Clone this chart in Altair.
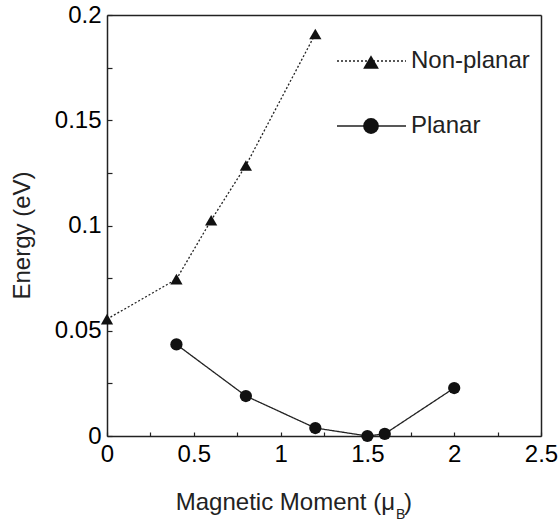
import altair as alt
import pandas as pd

# ---- data ----
nonplanar_x = [0.0, 0.4, 0.6, 0.8, 1.2]
nonplanar_y = [0.0555, 0.0745, 0.1025, 0.1285, 0.191]
planar_x = [0.4, 0.8, 1.2, 1.5, 1.6, 2.0]
planar_y = [0.0435, 0.019, 0.0038, 0.0, 0.001, 0.0228]
series_names = ["Non-planar", "Planar"]

x_major = [0, 0.5, 1, 1.5, 2, 2.5]
x_minor = [0, 0.25, 0.5, 0.75, 1, 1.25, 1.5, 1.75, 2, 2.25, 2.5]
y_major = [0, 0.05, 0.1, 0.15, 0.2]
y_minor = [0, 0.025, 0.05, 0.075, 0.1, 0.125, 0.15, 0.175, 0.2]
x_title_main = ["Magnetic Moment (μ"]
x_title_sub = ["B"]
x_title_end = [")"]
y_title = "Energy (eV)"

df = pd.concat([
    pd.DataFrame({"moment": nonplanar_x, "energy": nonplanar_y, "series": series_names[0]}),
    pd.DataFrame({"moment": planar_x, "energy": planar_y, "series": series_names[1]}),
], ignore_index=True)

W, H = 434, 421
FONT = "Liberation Sans"
INK = "#222222"
MARK = "#111111"

xs = alt.Scale(domain=[0, 2.5], nice=False, zero=False)
ys = alt.Scale(domain=[0, 0.2], nice=False, zero=False)

# main axes: labels + bottom/left frame lines
x_lab_axis = alt.Axis(values=x_major, format="~g", ticks=False, domain=True, domainColor=INK,
                      domainWidth=1.5, grid=False, labelPadding=6, title=None, labelFontSize=24,
                      labelFlush=False, labelOverlap=False)
y_lab_axis = alt.Axis(values=y_major, format="~g", ticks=False, domain=True, domainColor=INK,
                      domainWidth=1.5, grid=False, labelPadding=6, labelFontSize=24,
                      labelFlush=False, labelOverlap=False,
                      title=y_title, titleFontSize=24, titleFont=FONT, titleFontWeight="normal",
                      titleColor=INK, titlePadding=20, titleY=220)
# inward tick axes
x_tick_axis = alt.Axis(orient="top", offset=-H, values=x_minor, labels=False, domain=False,
                       grid=False, tickSize=4, tickWidth=1.2, tickColor=INK, title=None)
y_tick_axis = alt.Axis(orient="right", offset=-W, values=y_minor, labels=False, domain=False,
                       grid=False, tickSize=5, tickWidth=1.2, tickColor=INK, title=None)
# top/right frame lines
x_top_axis = alt.Axis(orient="top", values=x_major, labels=False, ticks=False, domain=True,
                      domainColor=INK, domainWidth=1.5, grid=False, title=None)
y_right_axis = alt.Axis(orient="right", values=y_major, labels=False, ticks=False, domain=True,
                        domainColor=INK, domainWidth=1.5, grid=False, title=None)

lines = alt.Chart(df).mark_line(color=INK, strokeWidth=1.3).encode(
    x=alt.X("moment:Q", scale=xs, axis=x_lab_axis),
    y=alt.Y("energy:Q", scale=ys, axis=y_lab_axis),
    detail="series:N",
    strokeDash=alt.StrokeDash("series:N", scale=alt.Scale(domain=series_names, range=[[2, 2], [1, 0]]),
                              legend=None),
)

tri = alt.Chart(df).transform_filter(alt.datum.series == series_names[0]).mark_point(
    shape="triangle-up", filled=True, size=150, color=MARK, opacity=1
).encode(
    x=alt.X("moment:Q", scale=xs, axis=x_tick_axis),
    y=alt.Y("energy:Q", scale=ys, axis=y_tick_axis),
)

circ = alt.Chart(df).transform_filter(alt.datum.series == series_names[1]).mark_point(
    shape="circle", filled=True, size=150, color=MARK, opacity=1
).encode(
    x=alt.X("moment:Q", scale=xs, axis=x_top_axis),
    y=alt.Y("energy:Q", scale=ys, axis=y_right_axis),
)

# ---- legend (drawn as a guide inside the plot, top right) ----
legend_df = pd.DataFrame({"label": series_names})
LX0, LX1, LMID, LTXT = 230, 299, 264, 304
LY = {series_names[0]: 46, series_names[1]: 111}
legend_layers = []
for name, dash, shape in [(series_names[0], [2, 2], "triangle-up"), (series_names[1], [1, 0], "circle")]:
    base = alt.Chart(legend_df).transform_filter(alt.datum.label == name)
    legend_layers.append(base.mark_rule(color=INK, strokeWidth=1.3, strokeDash=dash).encode(
        x=alt.value(LX0), x2=alt.value(LX1), y=alt.value(LY[name])))
    legend_layers.append(base.mark_point(shape=shape, filled=True, size=250, color=MARK, opacity=1).encode(
        x=alt.value(LMID), y=alt.value(LY[name] + (1 if shape == "triangle-up" else 0))))
    legend_layers.append(base.mark_text(align="left", baseline="middle", font=FONT, fontSize=24,
                                        color=INK).encode(
        text="label:N", x=alt.value(LTXT), y=alt.value(LY[name])))

title_main = alt.Chart(pd.DataFrame({"t": x_title_main})).mark_text(
    align="right", baseline="alphabetic", font=FONT, fontSize=24, color=INK
).encode(text="t:N", x=alt.value(288), y=alt.value(495))
title_sub = alt.Chart(pd.DataFrame({"t": x_title_sub})).mark_text(
    align="left", baseline="alphabetic", font=FONT, fontSize=14, color=INK
).encode(text="t:N", x=alt.value(289), y=alt.value(504))
title_end = alt.Chart(pd.DataFrame({"t": x_title_end})).mark_text(
    align="left", baseline="alphabetic", font=FONT, fontSize=24, color=INK
).encode(text="t:N", x=alt.value(297), y=alt.value(495))

chart = alt.layer(lines, tri, circ, *legend_layers, title_main, title_sub, title_end).resolve_axis(
    x="independent", y="independent"
).properties(
    width=W, height=H,
    padding={"left": 107, "top": 15, "right": 17, "bottom": 85},
    autosize="none",
).configure_view(
    stroke=None
).configure_axis(
    labelFont=FONT, labelColor=INK, labelFontSize=24
).configure(background="white")

chart.save("out.html", embed_options={"renderer": "svg", "actions": False})
